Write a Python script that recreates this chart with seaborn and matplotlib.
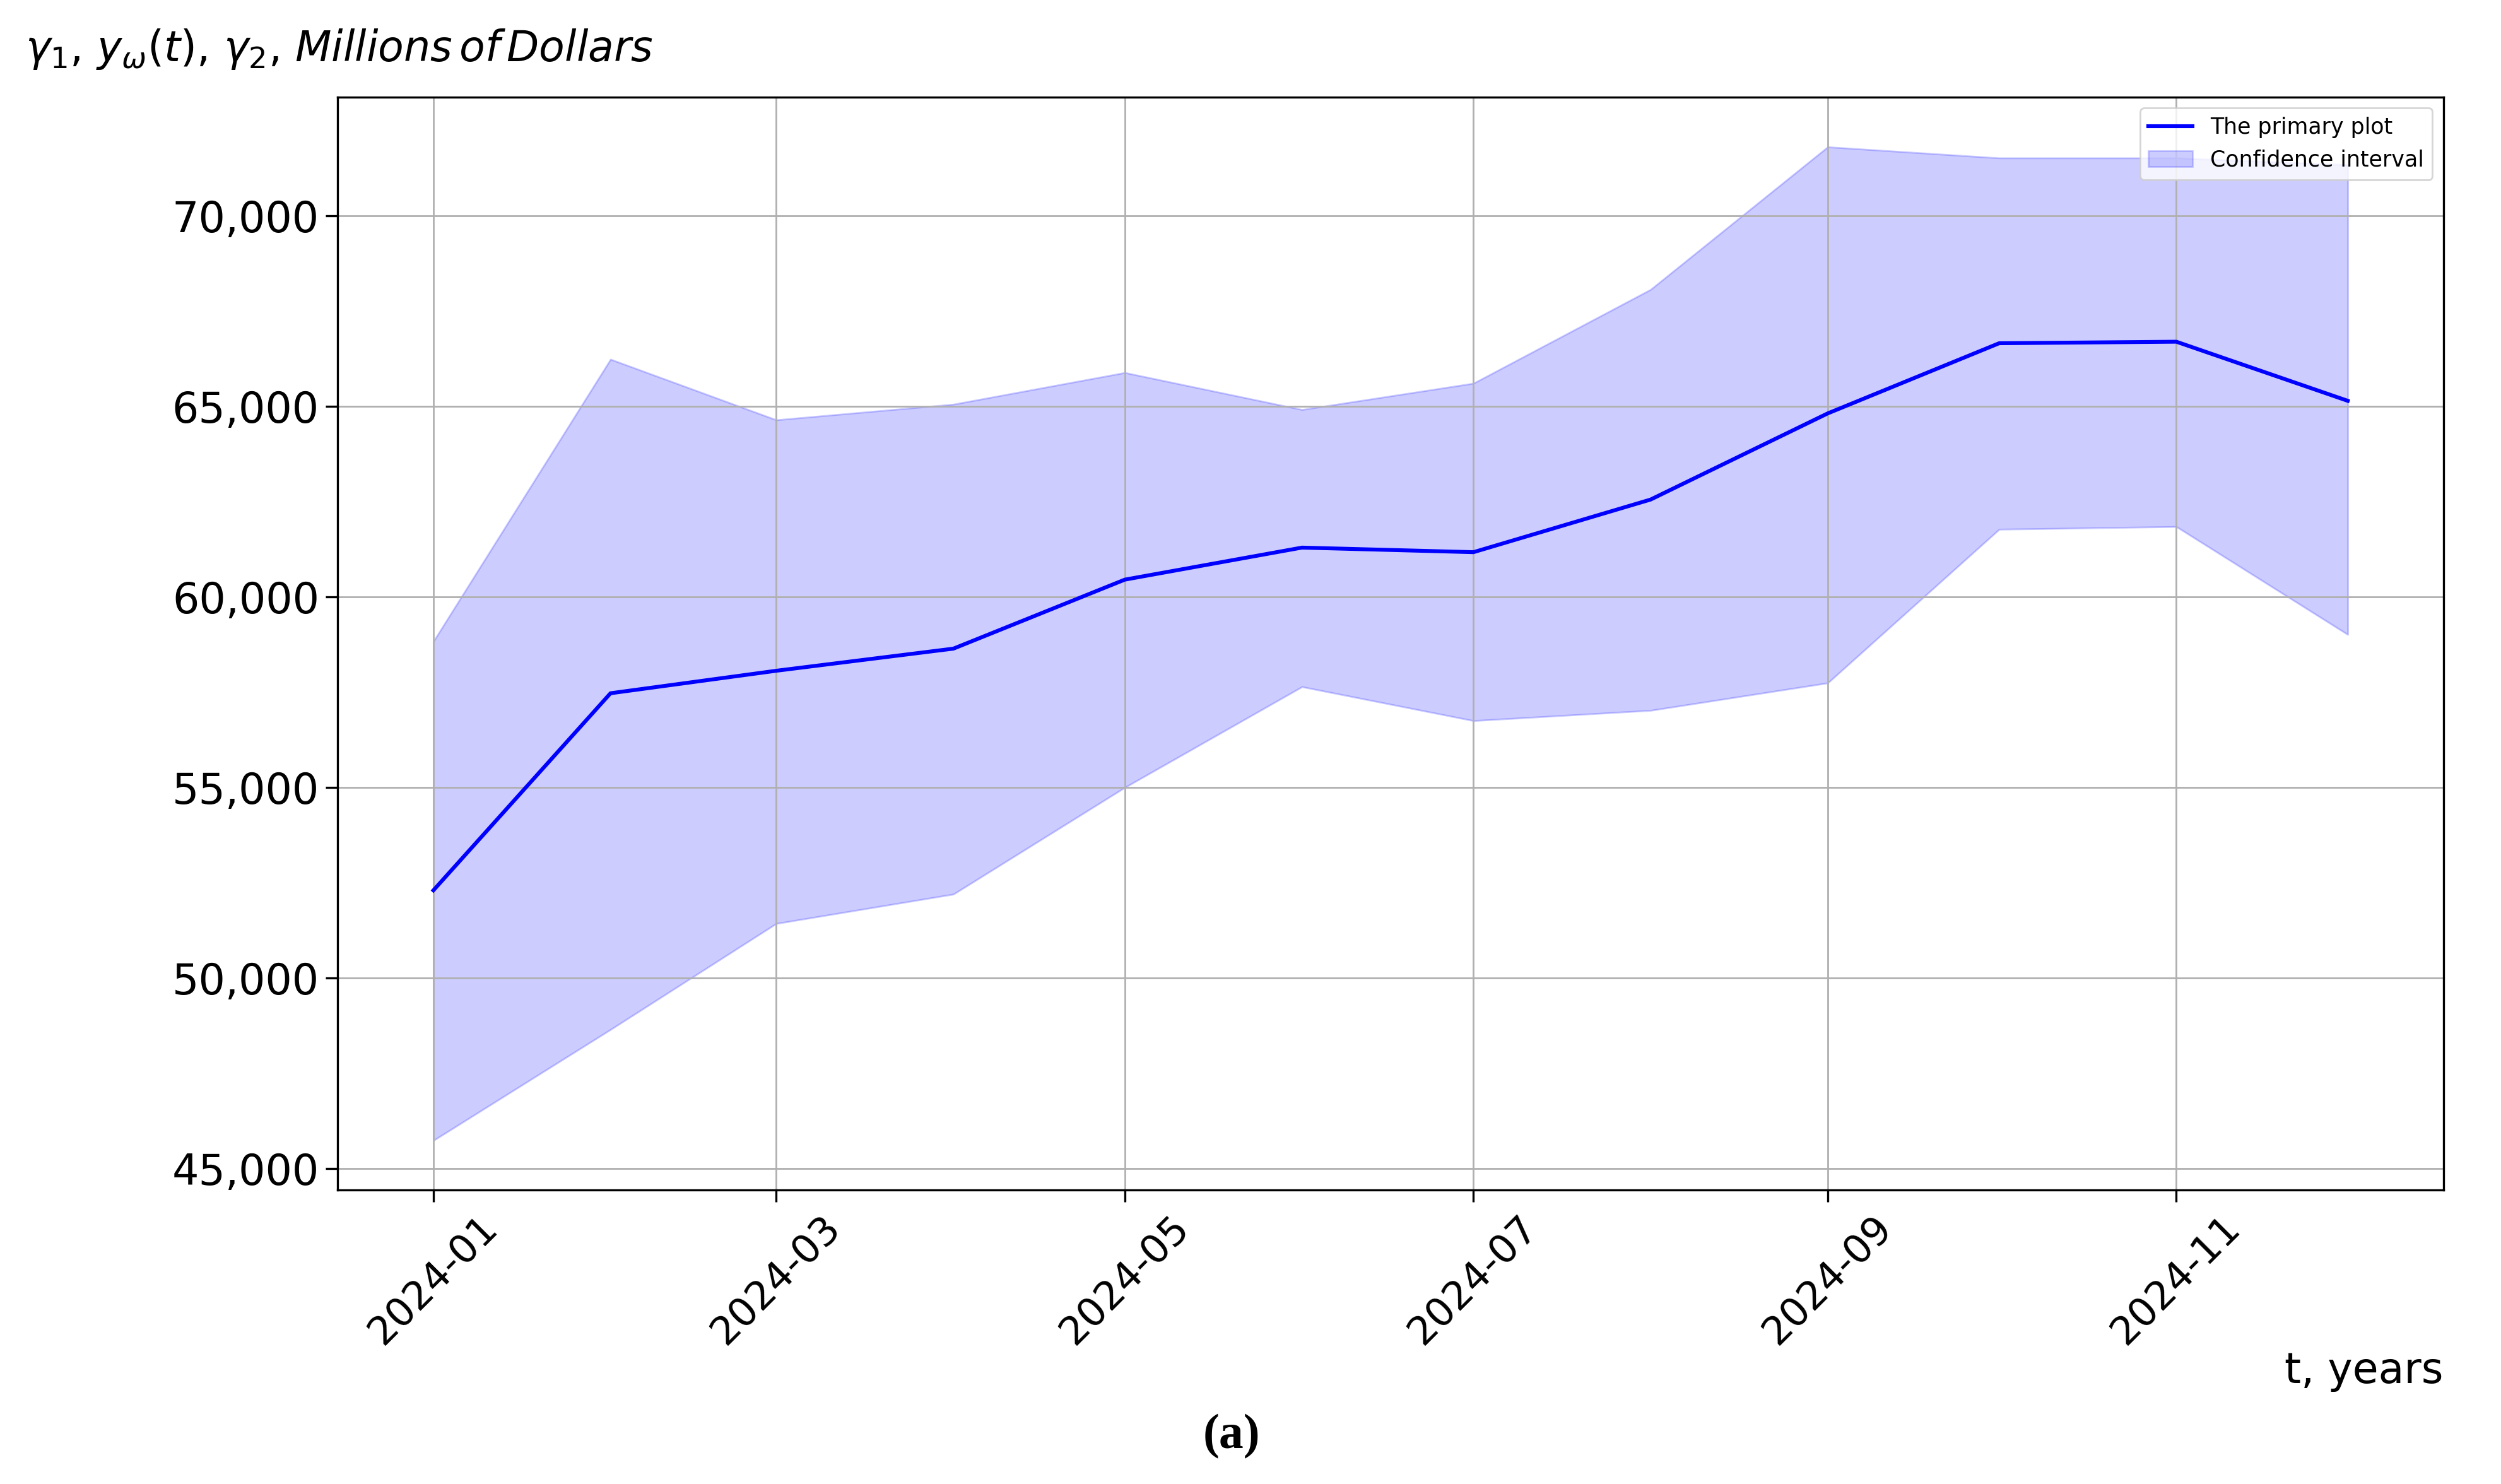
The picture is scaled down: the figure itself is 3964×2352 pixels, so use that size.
import pandas as pd
import seaborn as sns
import matplotlib
matplotlib.use("Agg")
import matplotlib.pyplot as plt
import matplotlib.dates as mdates
from matplotlib.ticker import FuncFormatter

# monthly values, millions of dollars
months = ["2024-01", "2024-02", "2024-03", "2024-04", "2024-05", "2024-06",
          "2024-07", "2024-08", "2024-09", "2024-10", "2024-11", "2024-12"]
primary = [52300, 57470, 58060, 58640, 60450, 61290,
           61170, 62550, 64810, 66650, 66690, 65140]
upper = [58830, 66230, 64640, 65050, 65880, 64910,
         65600, 68060, 71800, 71510, 71510, 71330]
lower = [45740, 48650, 51430, 52200, 55000, 57640,
         56750, 57020, 57740, 61770, 61840, 59010]

df = pd.DataFrame({"date": pd.to_datetime(months), "value": primary,
                   "upper": upper, "lower": lower})

fig, ax = plt.subplots(figsize=(19.82, 11.76), dpi=200)
fig.subplots_adjust(left=0.135, right=0.977, top=0.9345, bottom=0.198)

sns.lineplot(data=df, x="date", y="value", ax=ax, color="blue",
             linewidth=2.2, label="The primary plot")
ax.fill_between(df["date"], df["lower"], df["upper"], color="blue",
                alpha=0.2, label="Confidence interval")

ax.xaxis.set_major_locator(mdates.MonthLocator(bymonth=[1, 3, 5, 7, 9, 11]))
ax.xaxis.set_major_formatter(mdates.DateFormatter("%Y-%m"))
ax.yaxis.set_major_formatter(FuncFormatter(lambda v, p: f"{v:,.0f}"))
ax.tick_params(axis="y", labelsize=24, length=7, width=1.2)
ax.tick_params(axis="x", labelsize=22.5, length=7, width=1.2)
plt.setp(ax.get_xticklabels(), rotation=45)
ax.set_xlabel("")
ax.set_ylabel("")
ax.grid(True, color="#b0b0b0", linewidth=1.0)
for s in ax.spines.values():
    s.set_linewidth(1.2)

ax.legend(loc="upper right", fontsize=12.5)

fig.text(0.01, 0.967, r"$\gamma_1$, $y_\omega(t)$, $\gamma_2$, $Millions\,of\,Dollars$",
         fontsize=24, va="center", ha="left")
fig.text(0.977, 0.076, "t, years", fontsize=24, ha="right", va="center")
fig.text(0.4925, 0.032, "(a)", fontsize=28, fontweight="bold",
         family="Liberation Serif", ha="center", va="center")

fig.savefig("out.png", dpi=200)
